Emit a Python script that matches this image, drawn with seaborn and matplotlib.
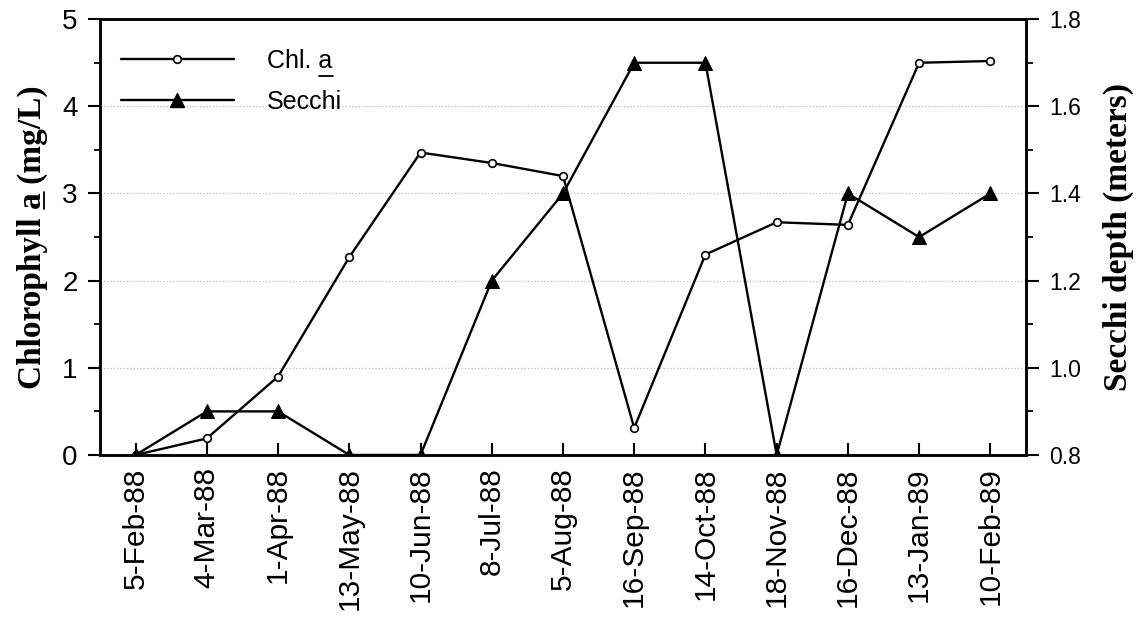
import numpy as np
import pandas as pd
import matplotlib
matplotlib.use("Agg")
import matplotlib.pyplot as plt
import seaborn as sns
from matplotlib.ticker import MultipleLocator, FormatStrFormatter
from matplotlib.lines import Line2D

dates = ['5-Feb-88', '4-Mar-88', '1-Apr-88', '13-May-88', '10-Jun-88', '8-Jul-88',
         '5-Aug-88', '16-Sep-88', '14-Oct-88', '18-Nov-88', '16-Dec-88', '13-Jan-89',
         '10-Feb-89']
chl_a = [0.0, 0.19, 0.90, 2.27, 3.47, 3.35, 3.20, 0.31, 2.30, 2.67, 2.64, 4.50, 4.52]
secchi = [0.8, 0.9, 0.9, 0.8, 0.8, 1.2, 1.4, 1.7, 1.7, 0.8, 1.4, 1.3, 1.4]

df = pd.DataFrame({'date': dates, 'chl': chl_a, 'secchi': secchi})

sns.set_style('ticks')
plt.rcParams['font.family'] = ['Liberation Sans', 'DejaVu Sans']
plt.rcParams['text.color'] = 'black'
plt.rcParams['axes.labelcolor'] = 'black'
plt.rcParams['xtick.color'] = 'black'
plt.rcParams['ytick.color'] = 'black'

fig = plt.figure(figsize=(11.48, 6.39), dpi=100)
ax = fig.add_axes([0.0871, 0.288, 0.8066, 0.682])
ax2 = ax.twinx()

sns.lineplot(data=df, x='date', y='chl', ax=ax, sort=False, color='black', lw=1.7,
             marker='o', markersize=5.5, markerfacecolor='white', markeredgecolor='black',
             markeredgewidth=1.2)
sns.lineplot(data=df, x='date', y='secchi', ax=ax2, sort=False, color='black', lw=1.7,
             marker='^', markersize=9.5, markerfacecolor='black', markeredgecolor='black')

ax.set_xlim(-0.5, 12.5)
ax.set_ylim(0, 5)
ax2.set_ylim(0.8, 1.8)

ax.yaxis.set_major_locator(MultipleLocator(1))
ax.yaxis.set_minor_locator(MultipleLocator(0.5))
ax2.yaxis.set_major_locator(MultipleLocator(0.2))
ax2.yaxis.set_minor_locator(MultipleLocator(0.1))
ax2.yaxis.set_major_formatter(FormatStrFormatter('%.1f'))

for a in (ax, ax2):
    for s in a.spines.values():
        s.set_linewidth(1.8)
        s.set_color('black')
    a.set_xlabel('')

ax.tick_params(axis='y', which='major', direction='out', length=9, width=1.5, labelsize=20, pad=7)
ax.tick_params(axis='y', which='minor', direction='out', length=4, width=1.3)
ax2.tick_params(axis='y', which='major', direction='out', length=9.5, width=1.5, labelsize=16.5, pad=7)
ax2.tick_params(axis='y', which='minor', direction='out', length=5, width=1.3)
ax.tick_params(axis='x', which='major', direction='in', length=8.5, width=1.5, labelsize=21.5,
               labelrotation=90, pad=9)

ax.grid(axis='y', which='major', color='#bbbbbb', linestyle=':', lw=0.9)

ylab = ax.set_ylabel('Chlorophyll a (mg/L)', family='Liberation Serif',
                     weight='bold', fontsize=24, labelpad=10)
ax2.set_ylabel('Secchi depth (meters)', family='Liberation Serif', weight='bold',
               fontsize=24, labelpad=16)

handles = [Line2D([], [], color='black', lw=1.7, marker='o', markersize=5.5,
                  markerfacecolor='white', markeredgecolor='black', markeredgewidth=1.2),
           Line2D([], [], color='black', lw=1.7, marker='^', markersize=9.5,
                  markerfacecolor='black')]
leg = ax2.legend(handles, ['Chl. a', 'Secchi'], loc='upper left',
                 frameon=False, fontsize=18, handlelength=4.5, handletextpad=1.35,
                 labelspacing=0.68, bbox_to_anchor=(0.0227, 0.932), borderaxespad=0,
                 borderpad=0)


# underline the "a" in the y label and in the legend
fig.canvas.draw()
r = fig.canvas.get_renderer()
W, H = fig.bbox.width, fig.bbox.height


def part_width(t, s):
    w, h, d = r.get_text_width_height_descent(s, t.get_fontproperties(), ismath=False)
    return w, d


def underline(t, prefix, ch, vertical):
    bb = t.get_window_extent(r)
    w0, d = part_width(t, prefix)
    w1, _ = part_width(t, prefix + ch)
    if vertical:
        x = bb.x1 - d + 3
        fig.add_artist(Line2D([x / W, x / W], [(bb.y0 + w0) / H, (bb.y0 + w1) / H],
                              color='black', lw=1.3))
    else:
        y = bb.y0 + d - 3
        fig.add_artist(Line2D([(bb.x0 + w0) / W, (bb.x0 + w1) / W], [y / H, y / H],
                              color='black', lw=1.3))


underline(ylab, 'Chlorophyll ', 'a', True)
underline(leg.get_texts()[0], 'Chl. ', 'a', False)

fig.savefig('out.png', dpi=100)
